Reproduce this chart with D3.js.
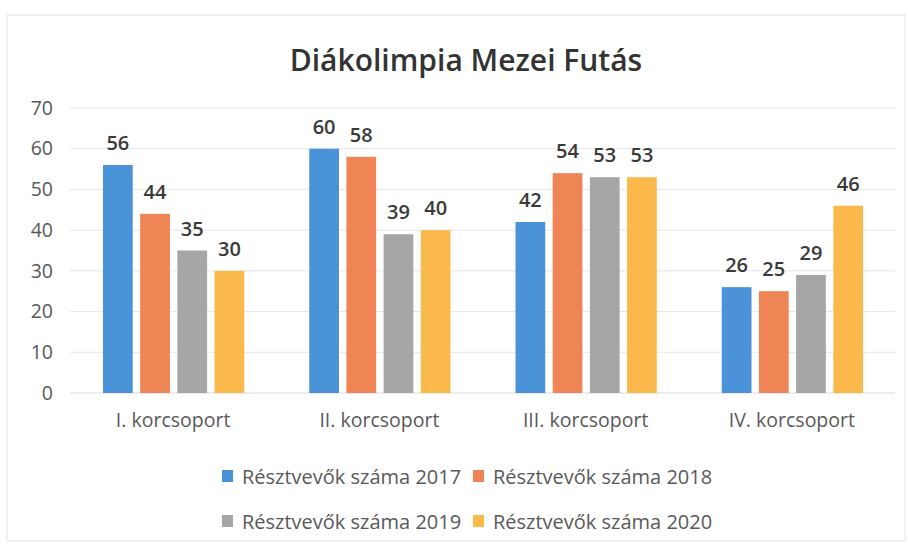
<!DOCTYPE html>
<html>
<head>
<meta charset="utf-8">
<script src="https://cdn.jsdelivr.net/npm/d3@7"></script>
<style>
    body { margin: 0; background: #fff; }
    svg { display: block; font-family: "Open Sans", Lato, sans-serif; }
</style>
</head>
<body>
<script>
const CATEGORIES = ["I. korcsoport", "II. korcsoport", "III. korcsoport", "IV. korcsoport"];
const SERIES = ["Résztvevők száma 2017", "Résztvevők száma 2018", "Résztvevők száma 2019", "Résztvevők száma 2020"];
const VALUES_2017 = [56, 60, 42, 26];
const VALUES_2018 = [44, 58, 54, 25];
const VALUES_2019 = [35, 39, 53, 29];
const VALUES_2020 = [30, 40, 53, 46];
const Y_TICKS = [0, 10, 20, 30, 40, 50, 60, 70];
const COLORS = ["#4a93d8", "#ef8555", "#a6a6a6", "#fbb94c"];

const seriesValues = [VALUES_2017, VALUES_2018, VALUES_2019, VALUES_2020];

const width = 908, height = 544;
const plotLeft = 70, plotRight = 895, plotTop = 108, plotBottom = 393;
const FONT = "'Open Sans', Lato, sans-serif";

const svg = d3.select("body").append("svg")
    .attr("width", width)
    .attr("height", height);

// faint page border like the scanned frame
svg.append("rect")
    .attr("x", 7).attr("y", 15)
    .attr("width", width - 10).attr("height", height - 18)
    .attr("fill", "none")
    .attr("stroke", "#e4e6f0")
    .attr("stroke-width", 1);

svg.append("text")
    .attr("x", 466)
    .attr("y", 71)
    .attr("text-anchor", "middle")
    .attr("fill", "#333")
    .style("font-size", "30px")
    .style("font-weight", 600)
    .text("Diákolimpia Mezei Futás");

const y = d3.scaleLinear().domain([0, 70]).range([plotBottom, plotTop]);
const x0 = d3.scaleBand().domain(CATEGORIES).range([plotLeft, plotRight]);
const x1 = d3.scaleBand().domain(SERIES)
    .range([x0.bandwidth() * 0.16, x0.bandwidth() * 0.845])
    .paddingInner(0.2);

// gridlines
svg.append("g")
    .selectAll("line")
    .data(Y_TICKS)
    .enter()
    .append("line")
    .attr("x1", plotLeft)
    .attr("x2", plotRight)
    .attr("y1", d => y(d))
    .attr("y2", d => y(d))
    .attr("stroke", d => d === 0 ? "#d9d9d9" : "#e6e6ec")
    .attr("stroke-width", 1);

// y axis labels
const yAxis = d3.axisLeft(y).tickValues(Y_TICKS).tickSize(0).tickPadding(0);
svg.append("g")
    .attr("transform", `translate(53, 0)`)
    .call(yAxis)
    .call(g => g.select(".domain").remove())
    .selectAll("text")
    .attr("fill", "#595959")
    .style("font-size", "19.5px")
    .style("font-family", FONT);

// x axis labels
const xAxis = d3.axisBottom(x0).tickSize(0).tickPadding(0);
svg.append("g")
    .attr("transform", `translate(0, 413)`)
    .call(xAxis)
    .call(g => g.select(".domain").remove())
    .selectAll("text")
    .attr("fill", "#595959")
    .style("font-size", "19.5px")
    .style("font-family", FONT);

const barData = [];
CATEGORIES.forEach((cat, ci) => {
    SERIES.forEach((ser, si) => {
        barData.push({ cat: cat, ser: ser, idx: si, value: seriesValues[si][ci] });
    });
});

const bars = svg.append("g")
    .selectAll("g")
    .data(barData)
    .enter()
    .append("g")
    .attr("transform", d => `translate(${x0(d.cat) + x1(d.ser)}, 0)`);

bars.append("rect")
    .attr("x", 0)
    .attr("y", d => y(d.value))
    .attr("width", x1.bandwidth())
    .attr("height", d => y(0) - y(d.value))
    .attr("fill", d => COLORS[d.idx]);

bars.append("text")
    .attr("x", x1.bandwidth() / 2)
    .attr("y", d => y(d.value) - 15)
    .attr("text-anchor", "middle")
    .attr("fill", "#3a3a3a")
    .style("font-size", "20px")
    .style("font-weight", 600)
    .text(d => d.value);

// legend, two rows
const legendPos = [
    { x: 222, y: 476 }, { x: 473, y: 476 },
    { x: 222, y: 521 }, { x: 473, y: 521 }
];
const legend = svg.append("g")
    .selectAll("g")
    .data(SERIES)
    .enter()
    .append("g")
    .attr("transform", (d, i) => `translate(${legendPos[i].x}, ${legendPos[i].y})`);

legend.append("rect")
    .attr("x", 0)
    .attr("y", -6)
    .attr("width", 11)
    .attr("height", 12)
    .attr("fill", (d, i) => COLORS[i]);

legend.append("text")
    .attr("x", 20)
    .attr("y", 0)
    .attr("dominant-baseline", "central")
    .attr("fill", "#595959")
    .style("font-size", "20px")
    .text(d => d);
</script>
</body>
</html>
